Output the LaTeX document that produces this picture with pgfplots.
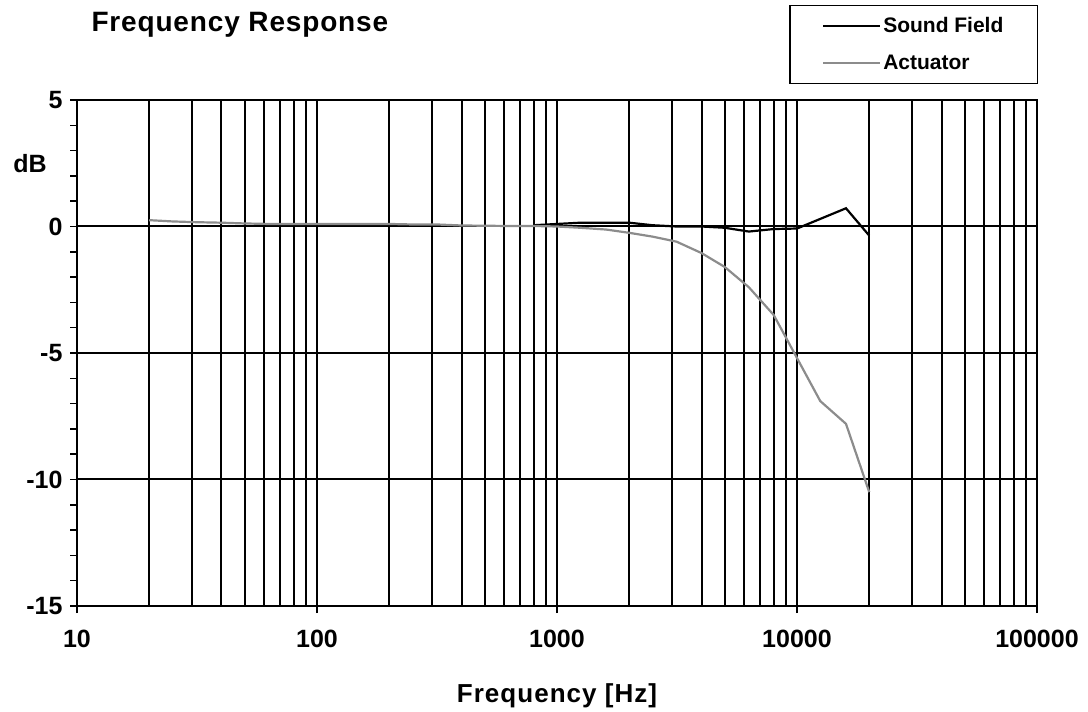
\documentclass[border=0pt]{standalone}
\usepackage{pgfplots}
\pgfplotsset{compat=1.18}
\usepackage{fontspec}
\setmainfont{Liberation Sans}
\definecolor{actgray}{RGB}{140,140,140}
\begin{document}
\begin{tikzpicture}
\useasboundingbox (-77pt,-106pt) rectangle (1011pt,606pt);
\begin{axis}[
  at={(0pt,0pt)}, anchor=south west,
  scale only axis, width=960pt, height=506pt,
  xmode=log, xmin=10, xmax=100000,
  ymin=-15, ymax=5,
  xtick={10,100,1000,10000,100000},
  xticklabels={10,100,1000,10000,100000},
  ytick={-15,-10,-5,0,5},
  minor ytick={-14,-13,-12,-11,-9,-8,-7,-6,-4,-3,-2,-1,1,2,3,4},
  /pgf/number format/assume math mode=true,
  tick align=outside, tickpos=left,
  major tick length=7pt, minor tick length=7pt,
  minor x tick style={draw=none},
  every tick/.style={black, line width=1.5pt},
  xmajorgrids, xminorgrids, ymajorgrids,
  major grid style={black, line width=2pt},
  minor grid style={black, line width=2pt},
  axis line style={black, line width=2pt},
  ticklabel style={font=\fontsize{25}{28}\selectfont\bfseries},
  xticklabel style={yshift=-14pt},
  yticklabel style={xshift=-4pt},
  xlabel={Frequency [Hz]},
  xlabel style={font=\fontsize{26}{30}\selectfont\bfseries\addfontfeature{LetterSpace=4}, at={(axis description cs:0.5,0)}, anchor=base, yshift=-96pt},
  legend style={at={(axis description cs:1,1)}, anchor=north east, xshift=1pt, yshift=95pt,
    draw=black, line width=1.2pt, font=\fontsize{21}{25}\selectfont\bfseries,
    inner xsep=32pt, inner ysep=10pt, row sep=17pt,
    /tikz/every even column/.append style={column sep=0pt}},
  legend cell align=left,
  legend image code/.code={\draw[#1] (0pt,0pt) -- (57pt,0pt);},
  clip=false,
]
\addplot[black, line width=2.2pt] coordinates {
(800,0.05) (1000,0.1) (1250,0.15) (1600,0.15) (2000,0.15) (2500,0.05) (3150,0.0)
(4000,0.0) (5000,-0.05) (6300,-0.2) (8000,-0.1) (10000,-0.08) (12500,0.3)
(16000,0.72) (20000,-0.36)
};
\addlegendentry{Sound Field}
\addplot[actgray, line width=2.2pt] coordinates {
(20,0.25) (25,0.2) (31.5,0.17) (40,0.15) (50,0.12) (63,0.1) (80,0.1) (100,0.1)
(125,0.1) (160,0.1) (200,0.1) (250,0.08) (315,0.08) (400,0.04) (500,0.03)
(630,0.02) (800,0.02) (1000,0.0) (1250,-0.05) (1600,-0.12) (2000,-0.25)
(2500,-0.4) (3150,-0.6) (4000,-1.05) (5000,-1.6) (6300,-2.4) (8000,-3.5)
(10000,-5.2) (12500,-6.9) (16000,-7.8) (20000,-10.5)
};
\addlegendentry{Actuator}
\node[font=\fontsize{25}{28}\selectfont\bfseries] at ([xshift=-47pt]rel axis cs:0,0.875) {dB};
\node[font=\fontsize{28}{32}\selectfont\bfseries\addfontfeature{LetterSpace=3}, anchor=base west] at ([xshift=11pt, yshift=-33pt]rel axis cs:0,1.2) {Frequency Response};
\end{axis}
\end{tikzpicture}
\end{document}
